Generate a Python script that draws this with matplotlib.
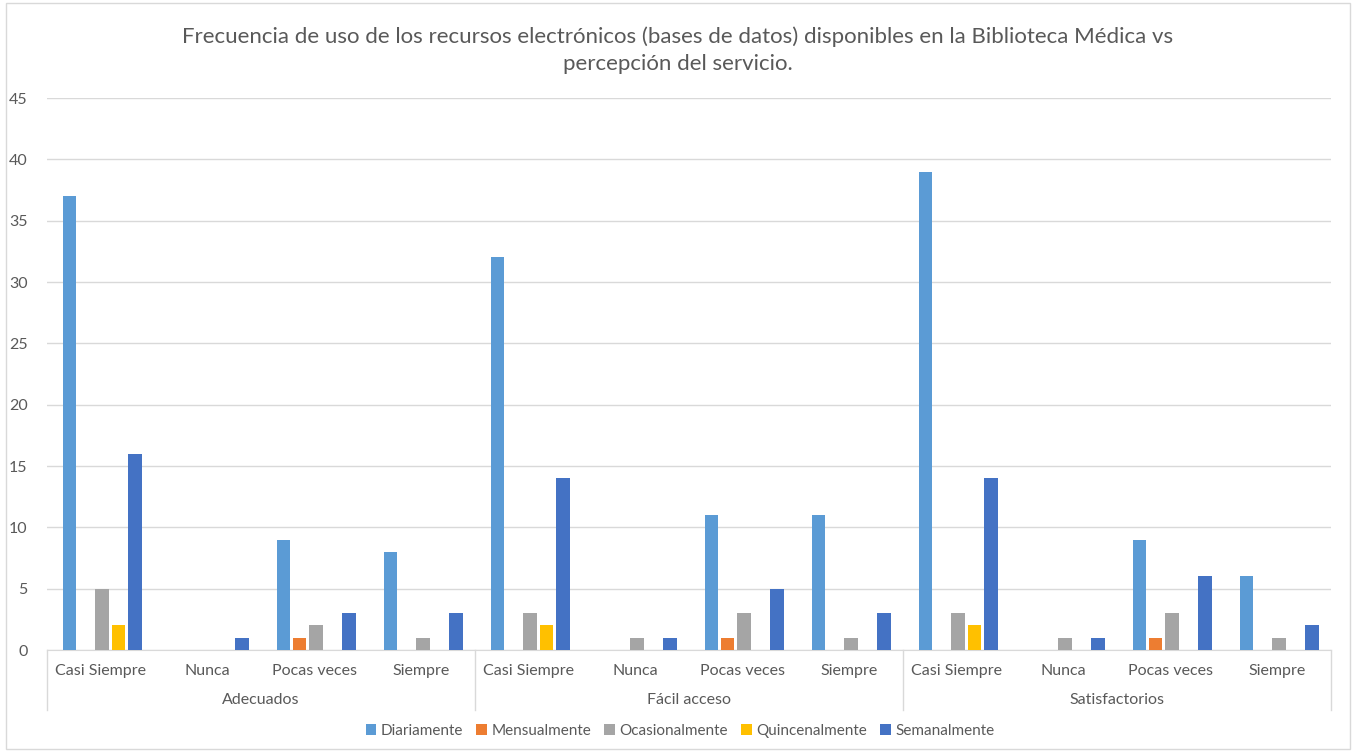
import numpy as np
import matplotlib.pyplot as plt
from matplotlib.patches import Rectangle

plt.rcParams['font.family'] = ['Lato', 'DejaVu Sans']

# Data
grupos = ['Adecuados', 'Fácil acceso', 'Satisfactorios']
categorias = ['Casi Siempre', 'Nunca', 'Pocas veces', 'Siempre']
series = ['Diariamente', 'Mensualmente', 'Ocasionalmente', 'Quincenalmente', 'Semanalmente']
colores = ['#5B9BD5', '#ED7D31', '#A5A5A5', '#FFC000', '#4472C4']

diariamente = [37, 0, 9, 8, 32, 0, 11, 11, 39, 0, 9, 6]
mensualmente = [0, 0, 1, 0, 0, 0, 1, 0, 0, 0, 1, 0]
ocasionalmente = [5, 0, 2, 1, 3, 1, 3, 1, 3, 1, 3, 1]
quincenalmente = [2, 0, 0, 0, 2, 0, 0, 0, 2, 0, 0, 0]
semanalmente = [16, 1, 3, 3, 14, 1, 5, 3, 14, 1, 6, 2]
valores = [diariamente, mensualmente, ocasionalmente, quincenalmente, semanalmente]

W, H = 1355, 751
fig = plt.figure(figsize=(W / 100, H / 100), dpi=100)
fig.patches.append(Rectangle((6 / W, 2 / H), 1344 / W, 746 / H, transform=fig.transFigure,
                             fill=False, edgecolor='#D9D9D9', linewidth=1))

ax = fig.add_axes([47 / W, (H - 650) / H, 1284 / W, 552 / H])

n = len(diariamente)
x = np.arange(n)
slot = 0.153
ancho = 0.126
for i, (nombre, vals, c) in enumerate(zip(series, valores, colores)):
    ax.bar(x + (i - 2) * slot + 0.015, vals, width=ancho, color=c, label=nombre, zorder=3)

ax.set_xlim(-0.5, n - 0.5)
ax.set_ylim(0, 45)
ax.set_yticks(range(0, 46, 5))
ax.yaxis.grid(True, color='#D9D9D9', linewidth=1, zorder=0)
ax.tick_params(axis='y', length=0, pad=14, labelsize=11.5, labelcolor='#595959')
for s in ['top', 'right', 'left']:
    ax.spines[s].set_visible(False)
ax.spines['bottom'].set_color('#D9D9D9')

ax.set_xticks(x)
ax.set_xticklabels(categorias * len(grupos))
ax.tick_params(axis='x', length=0, pad=10, labelsize=11.5, labelcolor='#595959')

# Group labels and separators
trans = ax.get_xaxis_transform()
for g, nombre in enumerate(grupos):
    ax.text(g * 4 + 1.5, -50 / 552, nombre, transform=trans, ha='center', va='center',
            fontsize=11.5, color='#595959')
for b in [-0.5, 3.5, 7.5, 11.5]:
    ax.plot([b, b], [0, -60 / 552], transform=trans, color='#D9D9D9', linewidth=1,
            clip_on=False)

fig.text(0.5, 1 - 50 / H, 'Frecuencia de uso de los recursos electrónicos (bases de datos) disponibles en la Biblioteca Médica vs\npercepción del servicio.',
         ha='center', va='center', fontsize=16, color='#595959', linespacing=1.45)

fig.legend(loc='center', bbox_to_anchor=(680 / W, 1 - 731 / H), ncol=5, frameon=False,
           fontsize=11, labelcolor='#595959', handlelength=0.7, handleheight=0.7,
           handletextpad=0.3, columnspacing=0.85)

fig.savefig('out.png', dpi=100)
